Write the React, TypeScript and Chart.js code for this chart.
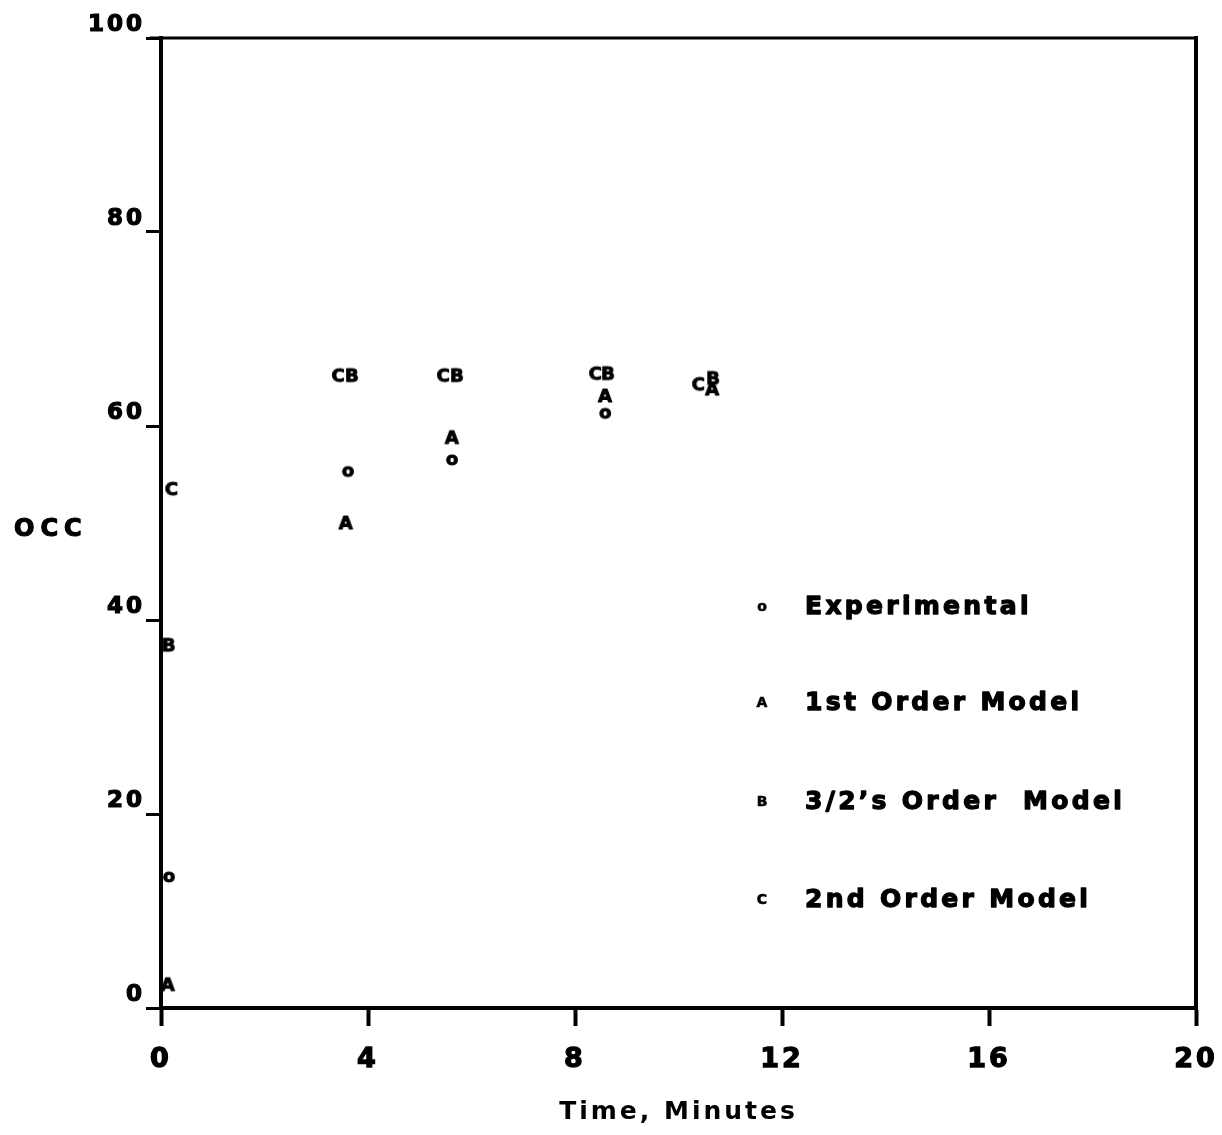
import React, { useEffect, useRef } from 'react';
import { Chart, registerables } from 'chart.js';

Chart.register(...registerables);

const FONT = '"DejaVu Sans", "Liberation Sans", sans-serif';

// Axis ticks
const xTicks = [0, 4, 8, 12, 16, 20];
const yTicks = [0, 20, 40, 60, 80, 100];

// Series names and the letter used to plot each one
const seriesLabels = ['Experimental', '1st Order Model', '3/2’s Order  Model', '2nd Order Model'];
const seriesMarkers = ['o', 'A', 'B', 'C'];

// Time (minutes) and OCC for each series
const experimentalTime = [0.15, 3.61, 5.62, 8.58];
const experimentalOcc = [13.5, 55.3, 56.5, 61.3];

const firstOrderTime = [0.13, 3.57, 5.62, 8.58, 10.65];
const firstOrderOcc = [2.5, 50.1, 58.9, 63.2, 63.9];

const threeHalvesTime = [0.15, 3.69, 5.72, 8.64, 10.67];
const threeHalvesOcc = [37.5, 65.3, 65.3, 65.5, 65.0];

const secondOrderTime = [0.2, 3.42, 5.45, 8.39, 10.38];
const secondOrderOcc = [53.6, 65.3, 65.3, 65.5, 64.4];

const seriesTimes = [experimentalTime, firstOrderTime, threeHalvesTime, secondOrderTime];
const seriesOcc = [experimentalOcc, firstOrderOcc, threeHalvesOcc, secondOrderOcc];

// Renders a single heavy character, centred on its ink, into a small canvas used as a point style.
function letterMarker(ch: string, size: number): HTMLCanvasElement {
  const box = 30;
  const c = document.createElement('canvas');
  c.width = box;
  c.height = box;
  const ctx = c.getContext('2d')!;
  ctx.font = `bold ${size}px ${FONT}`;
  ctx.fillStyle = '#000';
  ctx.strokeStyle = '#000';
  ctx.lineWidth = 1;
  ctx.lineJoin = 'round';
  ctx.textAlign = 'left';
  ctx.textBaseline = 'alphabetic';
  const m = ctx.measureText(ch);
  const x = box / 2 - (m.actualBoundingBoxRight - m.actualBoundingBoxLeft) / 2;
  const y = box / 2 + (m.actualBoundingBoxAscent - m.actualBoundingBoxDescent) / 2;
  ctx.fillText(ch, x, y);
  ctx.strokeText(ch, x, y);
  return c;
}

// Wide letter spacing for all the chart's own text.
const spacingPlugin = {
  id: 'spacing',
  beforeUpdate(chart: any) {
    chart.ctx.letterSpacing = '3px';
  },
  beforeDraw(chart: any) {
    chart.ctx.letterSpacing = '3px';
  },
};

function heavyText(ctx: CanvasRenderingContext2D, text: string, x: number, y: number, stroke: number) {
  ctx.fillText(text, x, y);
  if (stroke > 0) {
    ctx.lineWidth = stroke;
    ctx.strokeText(text, x, y);
  }
}

// Closes the frame on the top and right, writes the OCC label and the key.
const framePlugin = {
  id: 'frame',
  afterDraw(chart: any) {
    const { ctx, chartArea } = chart;
    const { left, right, top, bottom } = chartArea;
    ctx.save();
    ctx.strokeStyle = '#000';
    ctx.lineCap = 'square';
    ctx.lineWidth = 3;
    ctx.beginPath();
    ctx.moveTo(left - 10, top);
    ctx.lineTo(right, top);
    ctx.stroke();
    ctx.lineWidth = 4;
    ctx.beginPath();
    ctx.moveTo(right, top);
    ctx.lineTo(right, bottom);
    ctx.stroke();

    ctx.fillStyle = '#000';
    ctx.lineJoin = 'round';

    // vertical axis label, written horizontally
    ctx.letterSpacing = '6px';
    ctx.font = `bold 24px ${FONT}`;
    ctx.textAlign = 'left';
    ctx.textBaseline = 'middle';
    heavyText(ctx, 'OCC', 14, 530, 1.2);

    // key
    const rowY = [607, 703, 802, 900];
    chart.data.datasets.forEach((ds: any, i: number) => {
      ctx.letterSpacing = '0px';
      ctx.font = `bold 14px ${FONT}`;
      ctx.textAlign = 'center';
      heavyText(ctx, seriesMarkers[i], 762, rowY[i], 0.6);
      ctx.letterSpacing = '3.3px';
      ctx.font = `bold 25px ${FONT}`;
      ctx.textAlign = 'left';
      heavyText(ctx, ds.label, 805, rowY[i], 1.3);
    });
    ctx.restore();
  },
};

export default function App() {
  const ref = useRef<HTMLCanvasElement>(null);

  useEffect(() => {
    const canvas = ref.current!;
    const datasets = seriesLabels.map((label, i) => ({
      label,
      data: seriesTimes[i].map((t, j) => ({ x: t, y: seriesOcc[i][j] })),
      pointStyle: letterMarker(seriesMarkers[i], 18),
      pointRadius: 8,
      showLine: false,
    }));

    const chart = new Chart(canvas, {
      type: 'scatter',
      data: { datasets },
      plugins: [spacingPlugin, framePlugin],
      options: {
        responsive: false,
        animation: false,
        devicePixelRatio: 1,
        events: [],
        layout: { padding: { top: 38, right: 26, bottom: 0, left: 0 } },
        plugins: {
          legend: { display: false },
          tooltip: { enabled: false },
        },
        scales: {
          x: {
            type: 'linear',
            min: 0,
            max: 20,
            afterBuildTicks: (scale: any) => {
              scale.ticks = xTicks.map((v) => ({ value: v }));
            },
            afterFit: (scale: any) => {
              scale.height = 127;
              scale.paddingLeft = 0;
              scale.paddingRight = 0;
            },
            border: { display: true, color: '#000', width: 4 },
            grid: {
              drawOnChartArea: false,
              drawTicks: true,
              tickLength: 18,
              tickWidth: 4,
              tickColor: '#000',
            },
            ticks: {
              color: '#000',
              font: { family: FONT, size: 27, weight: 'bold' },
              textStrokeColor: '#000',
              textStrokeWidth: 1.3,
              padding: 18,
              maxRotation: 0,
              autoSkip: false,
            },
            title: {
              display: true,
              text: 'Time, Minutes',
              color: '#000',
              font: { family: FONT, size: 25, weight: 'bold' },
              padding: { top: 0, bottom: 8 },
            },
          },
          y: {
            type: 'linear',
            min: 0,
            max: 100,
            afterBuildTicks: (scale: any) => {
              scale.ticks = yTicks.map((v) => ({ value: v }));
            },
            afterFit: (scale: any) => {
              scale.width = 161;
              scale.paddingTop = 0;
              scale.paddingBottom = 0;
            },
            border: { display: true, color: '#000', width: 4 },
            grid: {
              drawOnChartArea: false,
              drawTicks: true,
              tickLength: 15,
              tickWidth: 3,
              tickColor: '#000',
            },
            ticks: {
              color: '#000',
              font: { family: FONT, size: 23, weight: 'bold' },
              textStrokeColor: '#000',
              textStrokeWidth: 1.2,
              padding: 1,
              labelOffset: -13,
              autoSkip: false,
            },
          },
        },
      },
    } as any);

    return () => chart.destroy();
  }, []);

  return (
    <div style={{ position: 'fixed', left: 0, top: 0, width: 1222, height: 1135, background: '#fff' }}>
      <canvas ref={ref} width={1222} height={1135} style={{ display: 'block', width: 1222, height: 1135 }} />
    </div>
  );
}
